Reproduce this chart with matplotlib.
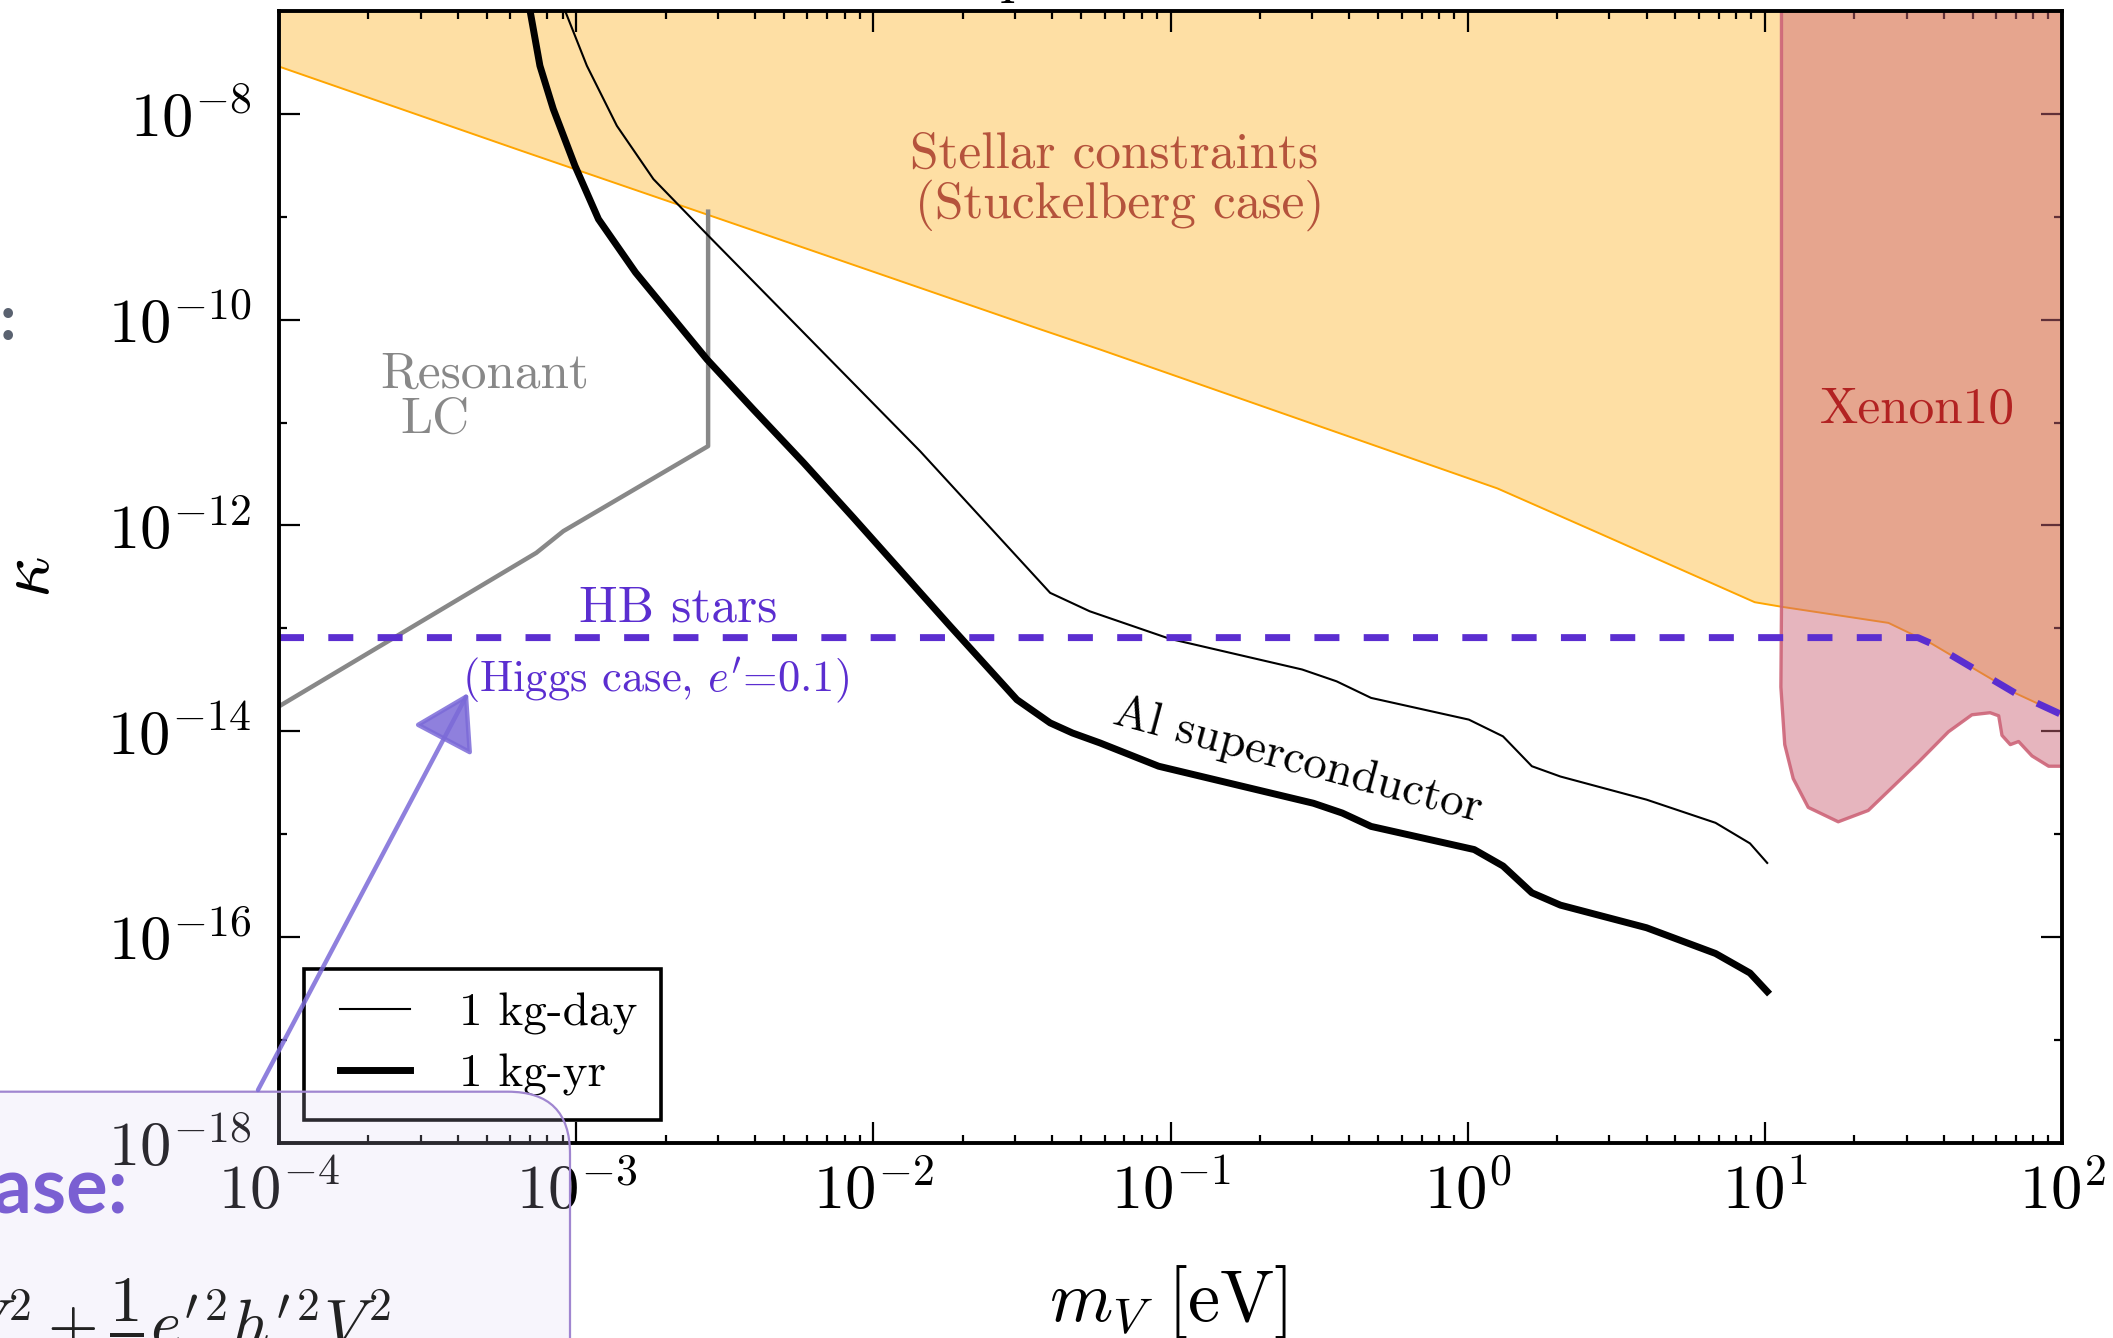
import numpy as np
import matplotlib
matplotlib.use("Agg")
import matplotlib.pyplot as plt
from matplotlib.patches import FancyBboxPatch, FancyArrowPatch
from matplotlib.transforms import IdentityTransform
from matplotlib.lines import Line2D
from matplotlib.legend_handler import HandlerLine2D

plt.rcParams['mathtext.fontset'] = 'cm'
plt.rcParams['font.family'] = ['cmr10', 'DejaVu Serif']
plt.rcParams['axes.formatter.use_mathtext'] = True
plt.rcParams['axes.unicode_minus'] = False

# ---------------- data (log10 values) ----------------
stellar_logm = [-4.0, -3.189, -2.235, -1.439, -1.237, 0.10, 0.438, 0.966, 1.056, 1.416, 1.562, 1.843, 2.0]
stellar_logk = [-7.54, -8.354, -9.30, -10.093, -10.29, -11.64, -12.07, -12.746, -12.79, -12.947, -13.15, -13.63, -13.84]

xenon_logm = [1.056, 1.056, 1.054, 1.067, 1.0955, 1.146, 1.247, 1.348, 1.517, 1.618,
              1.697, 1.758, 1.787, 1.798, 1.826, 1.854, 1.899, 1.955, 2.0]
xenon_logk = [-7.0, -12.8, -13.57, -14.13, -14.46, -14.74, -14.88, -14.77, -14.30, -14.005,
              -13.84, -13.82, -13.85, -14.04, -14.13, -14.10, -14.24, -14.34, -14.34]

hb_logm = [-4.0, 1.515, 1.562, 1.843, 2.0]
hb_logk = [-13.09, -13.09, -13.15, -13.63, -13.84]

lc_logm = [-4.0, -3.134, -3.043, -2.556, -2.556]
lc_logk = [-13.758, -12.266, -12.055, -11.229, -8.95]

day_logm = [-3.037, -2.964, -2.863, -2.740, -2.560, -2.235, -1.842,
            -1.405, -1.272, -1.002, -0.557, -0.441, -0.325, 0.004, 0.119, 0.216, 0.312,
            0.602, 0.834, 0.950, 1.008]
day_logk = [-7.0, -7.532, -8.116, -8.634, -9.17, -10.125, -11.28,
            -12.655, -12.834, -13.102, -13.40, -13.515, -13.676, -13.887, -14.05, -14.34, -14.44,
            -14.665, -14.89, -15.09, -15.28]

yr_logm = [-3.155, -3.122, -3.077, -3.004, -2.925, -2.800, -2.560, -2.404, -2.235, -2.067,
           -1.741, -1.517, -1.405, -1.330, -1.237, -1.040, -0.519, -0.422, -0.325, 0.022,
           0.119, 0.216, 0.312, 0.602, 0.834, 0.950, 1.008]
yr_logk = [-7.0, -7.532, -7.953, -8.505, -9.023, -9.542, -10.385, -10.872, -11.39, -11.925,
           -12.98, -13.693, -13.919, -14.017, -14.114, -14.34, -14.70, -14.795, -14.925, -15.15,
           -15.31, -15.57, -15.69, -15.91, -16.16, -16.35, -16.53]

legend_labels = ['1 kg-day', '1 kg-yr']

xtick_vals = [1e-4, 1e-3, 1e-2, 1e-1, 1e0, 1e1, 1e2]
xtick_labels = [r'$10^{-4}$', r'$10^{-3}$', r'$10^{-2}$', r'$10^{-1}$', r'$10^{0}$', r'$10^{1}$', r'$10^{2}$']
ytick_vals = [1e-18, 1e-16, 1e-14, 1e-12, 1e-10, 1e-8]
ytick_labels = [r'$10^{-18}$', r'$10^{-16}$', r'$10^{-14}$', r'$10^{-12}$', r'$10^{-10}$', r'$10^{-8}$']
ytick_minor = [1e-17, 1e-15, 1e-13, 1e-11, 1e-9, 1e-7]

def p(v):
    return 10.0 ** np.asarray(v)

# ---------------- figure ----------------
W, H = 2113, 1338
fig = plt.figure(figsize=(W / 100, H / 100), dpi=100)
fig.subplots_adjust(left=279 / W, right=2062 / W, bottom=(H - 1142.8) / H, top=(H - 11) / H)
ax = fig.add_subplot(111)
ax.set_xscale('log')
ax.set_yscale('log')
ax.set_xlim(1e-4, 1e2)
ax.set_ylim(1e-18, 1e-7)

YTOP = 1e-7
# stellar constraints
sx, sy = p(stellar_logm), p(stellar_logk)
ax.fill_between(sx, sy, YTOP, color='#fedfa4', lw=0, zorder=1)
ax.plot(sx, sy, color='#ffa500', lw=1.4, zorder=2)

# xenon10
xx, xy = p(xenon_logm), p(xenon_logk)
ax.fill(np.r_[xx, 1e2], np.r_[xy, YTOP], color='#cc6677', alpha=0.48, lw=0, zorder=3)
ax.plot(xx, xy, color='#cd6478', lw=2.4, alpha=0.9, zorder=4)

# resonant LC
ax.plot(p(lc_logm), p(lc_logk), color='#888888', lw=3.2, zorder=5)

# Al superconductor
ax.plot(p(day_logm), p(day_logk), color='black', lw=1.5, zorder=6, label=legend_labels[0],
        solid_joinstyle='round')
ax.plot(p(yr_logm), p(yr_logk), color='black', lw=5.0, zorder=6, label=legend_labels[1],
        solid_joinstyle='round')

# HB stars
ax.plot(p(hb_logm), p(hb_logk), color='#5b2ed0', lw=5.0, ls=(0, (3.6, 3.5)), zorder=7)

# ---------------- text ----------------
ax.text(p(-1.190), p(-8.521), 'Stellar constraints', color='#b5533c', fontsize=37,
        ha='center', va='baseline', zorder=8)
ax.text(p(-1.171), p(-9.007), '(Stuckelberg case)', color='#b5533c', fontsize=37,
        ha='center', va='baseline', zorder=8)
ax.text(p(-3.66), p(-10.66), 'Resonant', color='#888888', fontsize=37,
        ha='left', va='baseline', zorder=8)
ax.text(p(-3.591), p(-11.098), 'LC', color='#888888', fontsize=37,
        ha='left', va='baseline', zorder=8)
ax.text(p(-2.658), p(-12.931), 'HB stars', color='#5b2ed0', fontsize=37,
        ha='center', va='baseline', zorder=8)
ax.text(p(-3.385), p(-13.612), "(Higgs case, $e'$=0.1)", color='#5b2ed0', fontsize=32,
        ha='left', va='baseline', zorder=8)
ax.text(p(1.512), p(-11.005), 'Xenon10', color='#b22222', fontsize=37,
        ha='center', va='baseline', zorder=8)
ax.text(p(-0.570), p(-14.286), 'Al superconductor', color='black', fontsize=34,
        ha='center', va='center', rotation=-15, rotation_mode='anchor', zorder=8)

# ---------------- axes styling ----------------
for s in ax.spines.values():
    s.set_linewidth(2.8)
    s.set_zorder(10)
ax.set_xticks(xtick_vals, labels=xtick_labels)
ax.set_yticks(ytick_vals, labels=ytick_labels)
ax.set_yticks(ytick_minor, minor=True)
ax.yaxis.set_minor_formatter(matplotlib.ticker.NullFormatter())
ax.xaxis.set_minor_locator(matplotlib.ticker.LogLocator(base=10, subs=np.arange(2, 10), numticks=20))
ax.xaxis.set_minor_formatter(matplotlib.ticker.NullFormatter())
ax.tick_params(which='both', direction='in', top=True, right=True, width=1.6, labelsize=45)
ax.tick_params(which='major', length=15)
ax.tick_params(which='minor', length=6)
ax.tick_params(axis='x', which='major', pad=14)
ax.tick_params(axis='y', which='major', pad=20)

ax.set_xlabel(r'$m_V\ [\mathrm{eV}]$', fontsize=52)
ax.xaxis.set_label_coords(0.4986, -0.106)
ax.set_ylabel(r'$\kappa$', fontsize=52)
ax.yaxis.set_label_coords(-0.121, 0.4995)

leg = ax.legend(loc='lower left', bbox_to_anchor=(0.0138, 0.0201), borderaxespad=0,
                fontsize=34, handlelength=1.75, handletextpad=1.05, borderpad=0.5,
                labelspacing=0.4, fancybox=False, framealpha=1, edgecolor='black',
                handler_map={Line2D: HandlerLine2D(xpad=0.28)})
leg.get_frame().set_linewidth(2.6)
leg.set_zorder(20)

# ---------------- slide overlay elements ----------------
box = FancyBboxPatch((-200, -200), 570 + 200, (H - 1091.7) + 200,
                     boxstyle='round,pad=0,rounding_size=62',
                     transform=IdentityTransform(), facecolor=(0.847, 0.812, 0.941, 0.2),
                     edgecolor='#a086d0', lw=1.6, zorder=30)
fig.add_artist(box)

arrow = FancyArrowPatch((258, H - 1090), (468, H - 693), transform=IdentityTransform(),
                        arrowstyle='-|>,head_length=3.4,head_width=2.1', mutation_scale=10,
                        lw=3.2, color='#7b6ad8', alpha=0.85, shrinkA=0, shrinkB=0, zorder=31)
fig.add_artist(arrow)

fig.text(128 / W, 125 / H, 'case:', ha='right', va='baseline', fontsize=56,
         color='#7a5fd2', family='Lato', weight='bold', zorder=32)
fig.text(7.6 / W, 1 - 321.5 / H, ':', ha='center', va='center', fontsize=46,
         color='#5a6270', family='Lato', weight='bold', zorder=32)
fig.text(391 / W, -8 / H, r"$V_\mu^2+\dfrac{1}{2}e'^2h'^2V_\mu^2$", ha='right', va='baseline',
         fontsize=47, color='#222222', zorder=32)
# fragment of the slide title cut off at the top edge
fig.text(1015 / W, (H + 8) / H, 'p', ha='center', va='baseline', fontsize=40,
         color='black', weight='bold', zorder=32)

fig.savefig('out.png', dpi=100)
